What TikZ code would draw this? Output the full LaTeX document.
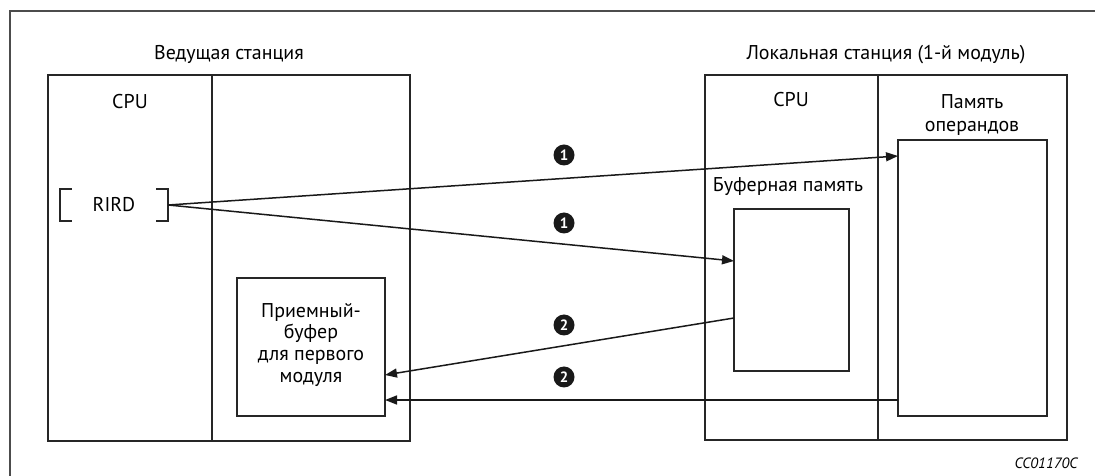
\documentclass[tikz,border=0pt]{standalone}
\usepackage{fontspec}
\setmainfont{PT Sans}
\usetikzlibrary{arrows.meta,calc}
\tikzset{
  boxst/.style={draw=black!85, line width=1.7bp, inner sep=0pt, outer sep=0pt, anchor=north west},
  lbl/.style={font=\fontsize{20}{23.5}\selectfont, inner sep=0pt, align=center},
  arr/.style={draw=black!90, line width=1.5bp, -{Triangle[length=12bp,width=9bp]}},
  num/.style={circle, fill=black!90, text=white, inner sep=0pt, minimum size=21bp, font=\fontsize{15}{15}\selectfont\bfseries},
  brk/.style={draw=black!85, line width=1.7bp}
}
\begin{document}
\begin{tikzpicture}[x=1bp,y=-1bp]
\useasboundingbox (0,0) rectangle (1095,476);
% outer frame
\draw[black!70, line width=1.2bp] (10,476) -- (10,11) -- (1095,11);

% master station
\node[boxst, minimum width=164.6bp, minimum height=365.7bp] (lcpu) at (47.7,75) {};
\node[boxst, minimum width=197.7bp, minimum height=365.7bp] (lmod) at (212.3,75) {};
\node[lbl] (lstat) at (229,54) {Ведущая станция};
\node[lbl] (lcpulbl) at (130,102) {CPU};
\node[lbl, minimum width=108bp, minimum height=32bp] (rird) at (114,205) {RIRD};
\draw[brk] ([xshift=12bp]rird.north west) -- (rird.north west) -- (rird.south west) -- ([xshift=12bp]rird.south west);
\draw[brk] ([xshift=-12bp]rird.north east) -- (rird.north east) -- (rird.south east) -- ([xshift=-12bp]rird.south east);
\node[boxst, minimum width=148bp, minimum height=138bp] (rxbuf) at (237,278) {};
\node[lbl, anchor=center, font=\fontsize{20}{22}\selectfont] (rxlbl) at (311,345) {Приемный-\\буфер\\для первого\\модуля};

% local station
\node[boxst, minimum width=172.7bp, minimum height=365bp] (rcpu) at (705,75) {};
\node[boxst, minimum width=189.3bp, minimum height=365bp] (rmem) at (877.7,75) {};
\node[lbl] (rstat) at (886,55) {Локальная станция (1-й модуль)};
\node[lbl] (rcpulbl) at (791,100) {CPU};
\node[lbl] (opmemlbl) at (972,115) {Память\\операндов};
\node[lbl] (buflbl) at (788,187) {Буферная память};
\node[boxst, minimum width=115bp, minimum height=162bp] (bufmem) at (734,209) {};
\node[boxst, minimum width=149bp, minimum height=276bp] (opmem) at (898,140) {};

% connectors
\draw[arr] (rird.east) -- ([yshift=-16bp]opmem.north west);
\draw[arr] (rird.east) -- ([yshift=-52bp]bufmem.north west);
\draw[arr] ([yshift=-109bp]bufmem.north west) -- ([yshift=-97bp]rxbuf.north east);
\coordinate (opout) at ([yshift=-260bp]opmem.north west);
\draw[arr] (opout) -- (opout -| rxbuf.east);

% numbers
\node[num] (n1a) at (564,155) {1};
\node[num] (n1b) at (564,223) {1};
\node[num] (n2a) at (564,325) {2};
\node[num] (n2b) at (564,377) {2};

\node[font=\fontsize{15}{15}\selectfont\itshape, inner sep=0pt] (code) at (1046,463) {CC01170C};
\end{tikzpicture}
\end{document}
